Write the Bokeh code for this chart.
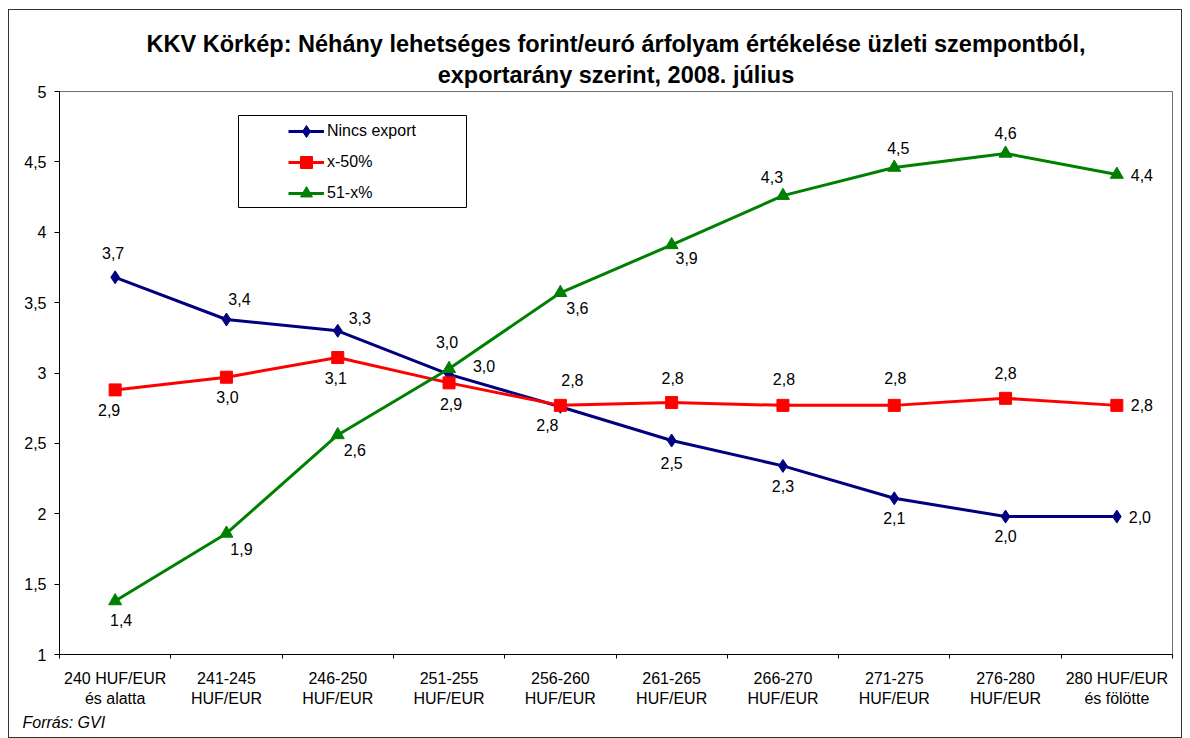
from bokeh.plotting import figure
from bokeh.models import (Range1d, FixedTicker, Title, Legend, LegendItem,
                          ColumnDataSource, BoxAnnotation)
from bokeh.core.properties import value
from bokeh.embed import file_html
from bokeh.resources import INLINE

# --- data -------------------------------------------------------------
categories = [
    "240 HUF/EUR\nés alatta",
    "241-245\nHUF/EUR",
    "246-250\nHUF/EUR",
    "251-255\nHUF/EUR",
    "256-260\nHUF/EUR",
    "261-265\nHUF/EUR",
    "266-270\nHUF/EUR",
    "271-275\nHUF/EUR",
    "276-280\nHUF/EUR",
    "280 HUF/EUR\nés fölötte",
]
series_names = ["Nincs export", "x-50%", "51-x%"]
nincs_export = [3.68, 3.38, 3.30, 2.99, 2.76, 2.52, 2.34, 2.11, 1.98, 1.98]
x_50 = [2.88, 2.97, 3.11, 2.93, 2.77, 2.79, 2.77, 2.77, 2.82, 2.77]
x51 = [1.38, 1.86, 2.56, 3.03, 3.57, 3.91, 4.26, 4.46, 4.56, 4.41]
y_ticks = [1, 1.5, 2, 2.5, 3, 3.5, 4, 4.5, 5]

# --- styling ----------------------------------------------------------
FONT = "Liberation Sans"
colors = ["#000080", "#FF0000", "#008000"]
markers = ["diamond", "square", "triangle"]
marker_sizes = [13, 12, 13]
# label offsets (px) for the value labels of each series
label_dx = [
    [-2, 13, 22, -2, -13, 0, 0, 0, 0, 23],
    [-6, 1, -2, 2, 12, 1, 1, 1, 0, 25],
    [6, 15, 17, 35, 17, 15, -11, 4, 0, 25],
]
label_dy = [
    [-24, -21, -13, -32, 18, 22, 20, 20, 19, 0],
    [20, 20, 20, 21, -25, -25, -26, -27, -25, 0],
    [19, 16, 15, -3, 15, 13, -19, -20, -20, 0],
]

xs = [i + 0.5 for i in range(len(categories))]

p = figure(
    width=1174, height=729,
    x_range=Range1d(0, len(categories)), y_range=Range1d(1, 5),
    output_backend="svg", toolbar_location=None,
    min_border_left=50, min_border_right=11,
    min_border_top=81, min_border_bottom=85,
    background_fill_color="white", border_fill_color="white",
    styles={"border": "1px solid #333333"},
    margin=(9, 0, 0, 8),
)
p.grid.visible = False
p.outline_line_color = "#707070"
p.outline_line_width = 1

# title (two lines)
for txt, so in [("exportarány szerint, 2008. július", 7),
                ("KKV Körkép: Néhány lehetséges forint/euró árfolyam értékelése üzleti szempontból,", 0)]:
    p.add_layout(Title(text=txt, align="center", text_font=FONT,
                       text_font_size="23.5px", text_font_style="bold",
                       text_color="black", standoff=so), "above")

p.add_layout(Title(text="Forrás: GVI", align="left", text_font=FONT,
                   text_font_size="16px", text_font_style="italic",
                   text_color="black", offset=-37, standoff=5), "below")

# axes
xa = p.xaxis[0]
xa.ticker = FixedTicker(ticks=xs, minor_ticks=list(range(len(categories) + 1)))
xa.major_label_overrides = {x: c for x, c in zip(xs, categories)}
xa.major_tick_in = 0
xa.major_tick_out = 0
xa.minor_tick_in = 0
xa.minor_tick_out = 4
xa.minor_tick_line_color = "black"
xa.axis_line_color = "black"
xa.major_label_text_font = FONT
xa.major_label_text_font_size = "16px"
xa.major_label_text_color = "black"
xa.major_label_standoff = 11

ya = p.yaxis[0]
ya.ticker = FixedTicker(ticks=y_ticks, minor_ticks=[])
ya.major_label_overrides = {t: (str(t).replace(".", ",") if t % 1 else str(int(t)))
                            for t in y_ticks}
ya.major_tick_in = 0
ya.major_tick_out = 5
ya.major_tick_line_color = "black"
ya.axis_line_color = "black"
ya.major_label_text_font = FONT
ya.major_label_text_font_size = "16px"
ya.major_label_text_color = "black"
ya.major_label_standoff = 8

# series
legend_items = []
for name, ys, col, mk, ms, dx, dy in zip(series_names, [nincs_export, x_50, x51],
                                         colors, markers, marker_sizes,
                                         label_dx, label_dy):
    src = ColumnDataSource(dict(
        x=xs, y=ys,
        lbl=[f"{v:.1f}".replace(".", ",") for v in ys],
        dx=dx, dy=dy,
    ))
    ln = p.line("x", "y", source=src, line_color=col, line_width=3)
    sc = p.scatter("x", "y", source=src, marker=mk, size=ms,
                   fill_color=col, line_color=col)
    p.text("x", "y", text="lbl", source=src, x_offset="dx", y_offset="dy",
           text_font=value(FONT), text_font_size="16px", text_color="black",
           text_align="center", text_baseline="middle")
    legend_items.append(LegendItem(label=name, renderers=[ln, sc]))

# legend frame (wider than the entries) and the legend itself
p.add_layout(BoxAnnotation(left=179, right=407, bottom=447, top=539,
                           left_units="screen", right_units="screen",
                           bottom_units="screen", top_units="screen",
                           fill_color="white", fill_alpha=1,
                           line_color="black", line_alpha=1, line_width=1))
legend = Legend(items=legend_items, location=(228, 445),
                label_text_font=FONT, label_text_font_size="16px",
                label_text_color="black", border_line_alpha=0,
                background_fill_alpha=0, glyph_width=36, glyph_height=30,
                label_height=20, spacing=1, padding=1, margin=0,
                label_standoff=3)
p.add_layout(legend, "center")

open("out.html", "w").write(file_html(p, INLINE))
